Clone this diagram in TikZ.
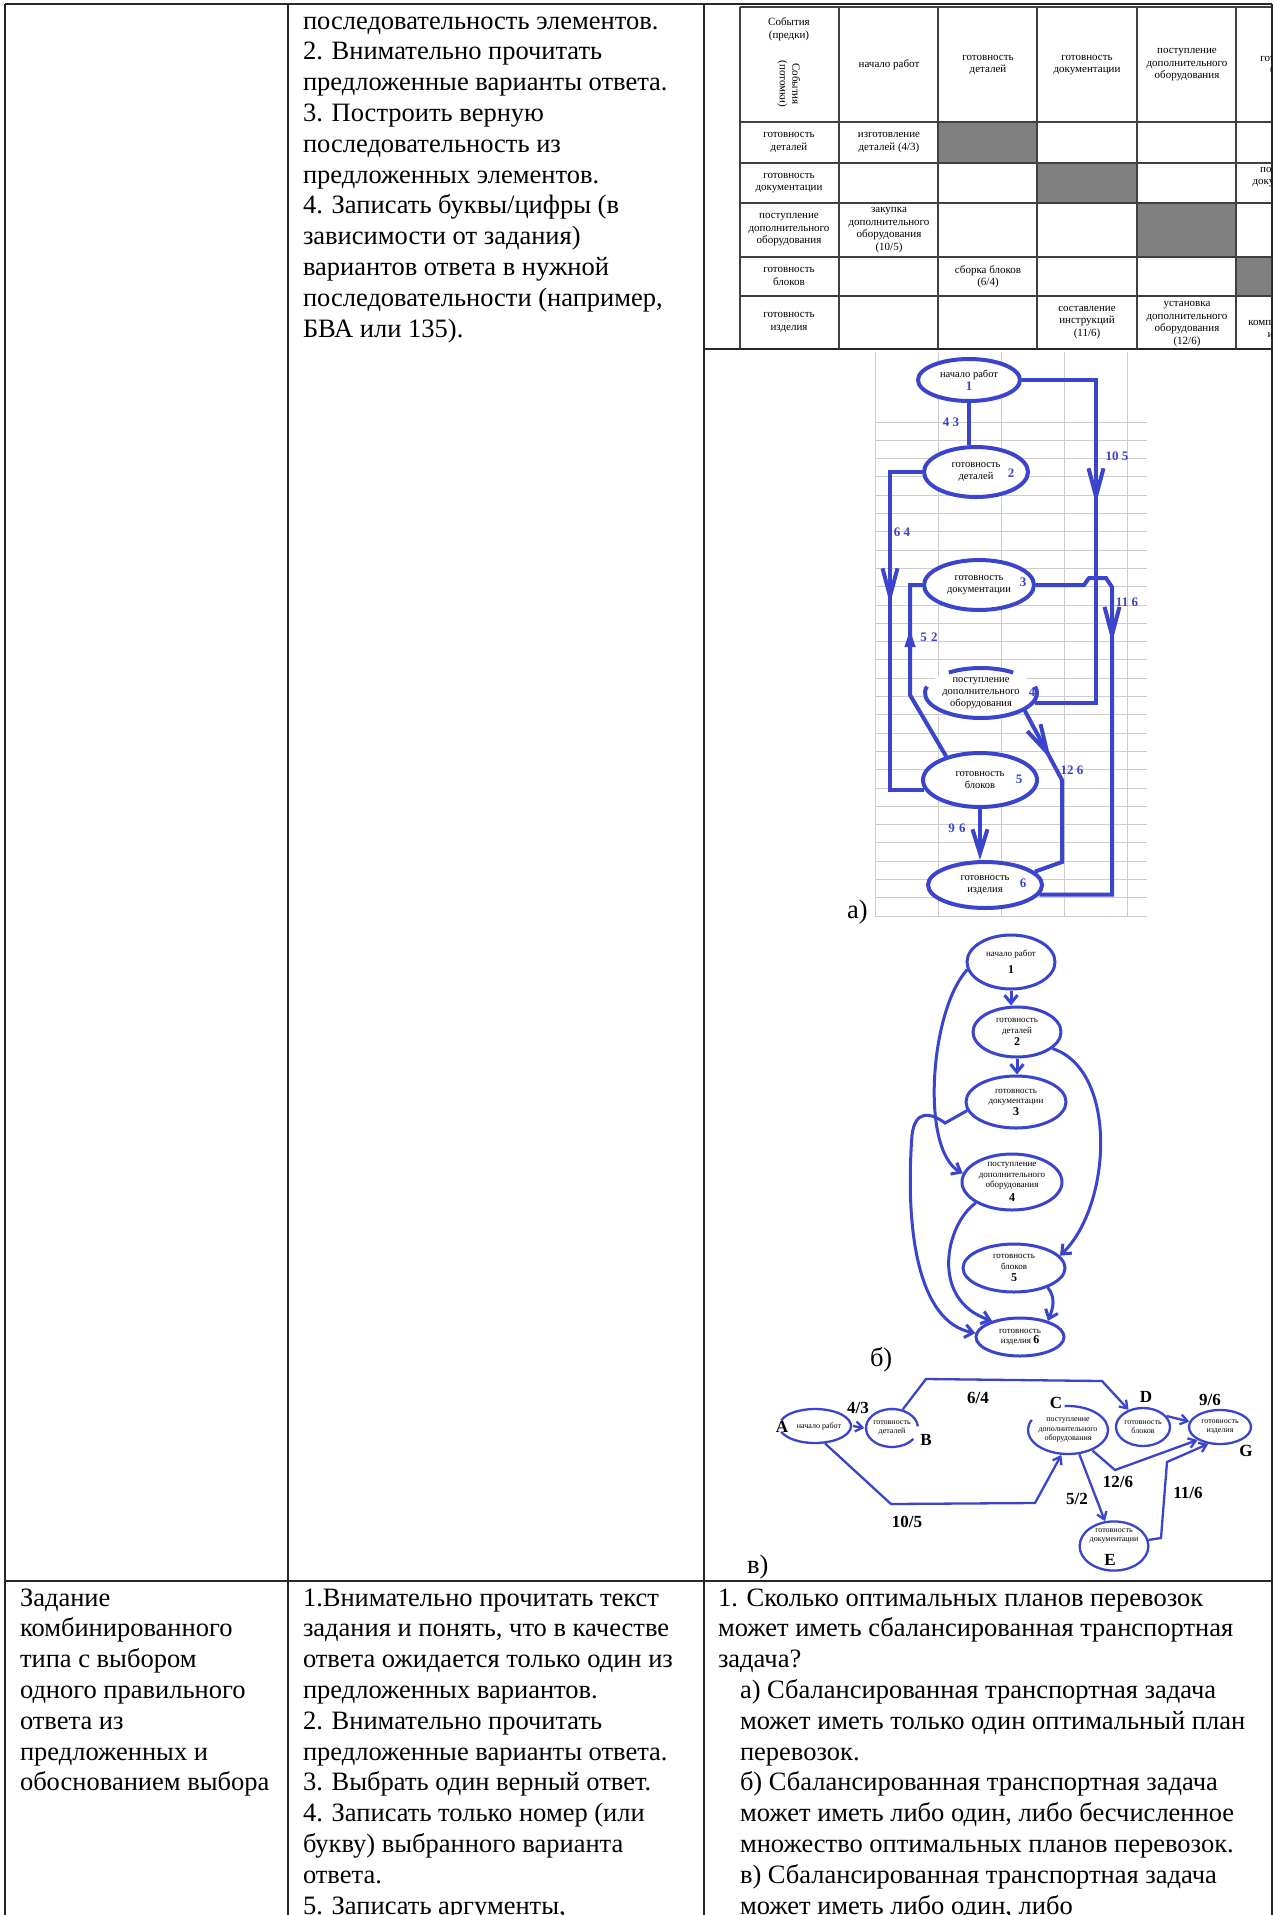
\documentclass[tikz,border=0pt]{standalone}
\usepackage{fontspec}
\setmainfont{Liberation Serif}
\usetikzlibrary{shapes.geometric,arrows.meta,decorations.markings}
\definecolor{gblue}{RGB}{58,68,205}
\definecolor{cellgrey}{RGB}{128,128,128}
\newcommand\tlines[4]{\foreach \txt [count=\i] in {#4} {\node[body,anchor=base west] (#3\i) at (#1,{#2-(\i-1)*30.8}) {\txt};}}
\begin{document}
\begin{tikzpicture}[x=1pt,y=1pt,
 frame/.style={draw=black!85,line width=1.4},
 tline/.style={draw=black!75,line width=1.1},
 gridl/.style={draw=black!20,line width=1},
 body/.style={font=\fontsize{26.5}{30.8}\selectfont,inner sep=0,outer sep=0},
 tbl/.style={font=\fontsize{11}{12.5}\selectfont,align=center,inner sep=0},
 aell/.style={ellipse,draw=gblue,line width=4,fill=white,inner sep=0,align=center,font=\fontsize{10.5}{11.5}\selectfont},
 aline/.style={draw=gblue,line width=4},
 alab/.style={text=gblue,font=\fontsize{13}{13}\selectfont\bfseries,inner sep=0},
 marr/.style={postaction={decorate,decoration={markings,mark=at position #1 with {\arrow{Straight Barb[length=28pt,width=15pt]}}}}},
 tarr/.style={postaction={decorate,decoration={markings,mark=at position #1 with {\arrow{Triangle[length=18pt,width=10pt]}}}}},
 bell/.style={ellipse,draw=gblue,line width=3,fill=white,inner sep=0,align=center,font=\fontsize{9}{10.5}\selectfont},
 bline/.style={draw=gblue,line width=3},
 barr/.style={-{Straight Barb[length=8pt,width=13pt]}},
 cell/.style={ellipse,draw=gblue,line width=2.3,fill=white,inner sep=0,align=center,font=\fontsize{8}{9.5}\selectfont},
 cline/.style={draw=gblue,line width=2.3},
 carr/.style={-{Straight Barb[length=7pt,width=10pt]}},
 clab/.style={font=\fontsize{17}{17}\selectfont\bfseries,inner sep=0}
]
\useasboundingbox (0,0) rectangle (1278,-1915);
\fill[white] (0,0) rectangle (1278,-1915);

% ---------- outer table ----------
\draw[frame] (5,-4) -- (1272,-4);
\draw[frame] (5,-4) -- (5,-1915);
\draw[frame] (288,-4) -- (288,-1915);
\draw[frame] (704,-4) -- (704,-1915);
\draw[frame] (1272,-4) -- (1272,-1915);
\draw[frame] (5,-1581) -- (1272,-1581);
\draw[frame] (704,-349) -- (1272,-349);

% ---------- texts ----------
\tlines{303}{-29}{ta}{{последовательность элементов.},{2. Внимательно прочитать},{предложенные варианты ответа.},{3. Построить верную},{последовательность из},{предложенных элементов.},{4. Записать буквы/цифры (в},{зависимости от задания)},{вариантов ответа в нужной},{последовательности (например,},{БВА или 135).}}
\tlines{20}{-1606}{tb}{{Задание},{комбинированного},{типа с выбором},{одного правильного},{ответа из},{предложенных и},{обоснованием выбора}}
\tlines{303}{-1606}{tc}{{1.Внимательно прочитать текст},{задания и понять, что в качестве},{ответа ожидается только один из},{предложенных вариантов.},{2. Внимательно прочитать},{предложенные варианты ответа.},{3. Выбрать один верный ответ.},{4. Записать только номер (или},{букву) выбранного варианта},{ответа.},{5. Записать аргументы,}}
\tlines{718}{-1606}{td}{{1. Сколько оптимальных планов перевозок},{может иметь сбалансированная транспортная},{задача?}}
\tlines{740}{-1698.4}{te}{{а) Сбалансированная транспортная задача},{может иметь только один оптимальный план},{перевозок.},{б) Сбалансированная транспортная задача},{может иметь либо один, либо бесчисленное},{множество оптимальных планов перевозок.},{в) Сбалансированная транспортная задача},{может иметь либо один, либо}}

% ---------- event table ----------
\begin{scope}
\clip (705,-5) rectangle (1271,-348);
\fill[cellgrey] (938,-122) rectangle (1037,-163);
\fill[cellgrey] (1037,-163) rectangle (1137,-203);
\fill[cellgrey] (1137,-203) rectangle (1236,-257);
\fill[cellgrey] (1236,-257) rectangle (1335,-296);
\foreach \x in {740,839,938,1037,1137,1236,1335} \draw[tline] (\x,-7) -- (\x,-349);
\foreach \y in {7,122,163,203,257,296} \draw[tline] (740,-\y) -- (1335,-\y);
\node[tbl] (h0) at (789,-29) {События\\(предки)};
\node[tbl,rotate=-90] (h0r) at (789,-84) {События\\(потомки)};
\node[tbl] (h1) at (889,-65) {начало работ};
\node[tbl] (h2) at (988,-65) {готовность\\деталей};
\node[tbl] (h3) at (1087,-65) {готовность\\документации};
\node[tbl] (h4) at (1187,-65) {поступление\\дополнительного\\оборудования};
\node[tbl] (h5) at (1286,-65) {готовность\\блоков};
\node[tbl] (r1) at (789,-142.5) {готовность\\деталей};
\node[tbl] (r2) at (789,-183) {готовность\\документации};
\node[tbl] (r3) at (789,-230) {поступление\\дополнительного\\оборудования};
\node[tbl] (r4) at (789,-276.5) {готовность\\блоков};
\node[tbl] (r5) at (789,-322.5) {готовность\\изделия};
\node[tbl] (c11) at (889,-142.5) {изготовление\\деталей (4/3)};
\node[tbl] (c25) at (1286,-177) {подготовка\\документации};
\node[tbl] (c31) at (889,-230) {закупка\\дополнительного\\оборудования\\(10/5)};
\node[tbl] (c42) at (988,-276.5) {сборка блоков\\(6/4)};
\node[tbl] (c53) at (1087,-322.5) {составление\\инструкций\\(11/6)};
\node[tbl] (c54) at (1187,-324) {установка\\дополнительного\\оборудования\\(12/6)};
\node[tbl] (c55) at (1286,-330) {комплектование\\изделия};
\end{scope}

% ---------- graph a) ----------
\foreach \x in {875,938,1001,1064,1127} \draw[gridl] (\x,-352) -- (\x,-916);
\foreach \k in {0,...,27} \draw[gridl] (875,{-422-18.3*\k}) -- (1147,{-422-18.3*\k});

\node[aell,minimum width=102,minimum height=42] (a1) at (969,-380) {начало работ\\[1pt]{\color{gblue}\fontsize{13}{13}\selectfont\bfseries 1}};
\node[aell,minimum width=104,minimum height=50] (a2) at (976,-472) {готовность\\деталей};
\node[aell,minimum width=110,minimum height=50] (a3) at (979,-585) {готовность\\документации};
\fill[white] (981,-693) ellipse[x radius=56,y radius=25];
\draw[aline] (981,-693) ++(55:56 and 25) arc[start angle=55,end angle=125,x radius=56,y radius=25];
\draw[aline] (981,-693) ++(165:56 and 25) arc[start angle=165,end angle=375,x radius=56,y radius=25];
\node[aell,draw=none,fill=none,minimum width=112,minimum height=50,font=\fontsize{10.5}{12}\selectfont] (a4) at (981,-693) {поступление\\дополнительного\\оборудования};
\node[aell,minimum width=114,minimum height=54] (a5) at (980,-780) {готовность\\блоков};
\node[aell,minimum width=114,minimum height=46] (a6) at (985,-885) {готовность\\изделия};
\node[alab] (a2n) at (1011,-473) {2};
\node[alab] (a3n) at (1023,-582) {3};
\node[alab] (a4n) at (1032,-692) {4};
\node[alab] (a5n) at (1019,-779) {5};
\node[alab] (a6n) at (1023,-883) {6};

\draw[aline] (a1.south) -- (a1.south |- a2.north);
\draw[aline,marr=198pt] (a1.east) -- (1096,-380) |- (a4.-10);
\draw[aline,marr=164pt] (a2.west) -- (890,-472) |- (a5.190);
\draw[aline,tarr=137pt] (a5.145) -- (910,-695) |- (a3.west);
\draw[aline,marr=140pt] (a3.east) -- (1084,-585) -- (1089,-578) -- (1106,-578) -- (1112,-587) |- (a6.-10);
\draw[aline,marr=55pt] (a4.-22) -- (1062,-780) -- (1062,-862) -- (a6.15);
\draw[aline,-{Straight Barb[length=24pt,width=15pt]}] (a5.south) -- (a5.south |- a6.north);

\node[alab] (l43) at (951,-422) {4 3};
\node[alab] (l105) at (1117,-456) {10 5};
\node[alab] (l64) at (902,-532) {6 4};
\node[alab] (l52) at (929,-637) {5\,\,2};
\node[alab] (l116) at (1127,-602) {11 6};
\node[alab] (l126) at (1072,-770) {12 6};
\node[alab] (l96) at (957,-828) {9\,\,6};
\node[body,anchor=base west] (la) at (847,-918) {а)};

% ---------- graph b) ----------
\node[bell,minimum width=88,minimum height=54] (b1) at (1011,-962) {начало работ\\[6pt]{\fontsize{12}{12}\selectfont\bfseries 1}};
\node[bell,minimum width=88,minimum height=50] (b2) at (1017,-1032) {готовность\\деталей\\[2pt]{\fontsize{12}{12}\selectfont\bfseries 2}};
\node[bell,minimum width=100,minimum height=52] (b3) at (1016,-1102) {готовность\\документации\\[1pt]{\fontsize{12}{12}\selectfont\bfseries 3}};
\node[bell,minimum width=100,minimum height=56] (b4) at (1012,-1182) {поступление\\дополнительного\\оборудования\\[3pt]{\fontsize{12}{12}\selectfont\bfseries 4}};
\node[bell,minimum width=102,minimum height=48] (b5) at (1014,-1268) {готовность\\блоков\\[2pt]{\fontsize{12}{12}\selectfont\bfseries 5}};
\node[bell,minimum width=88,minimum height=38] (b6) at (1020,-1337) {готовность\\изделия {\fontsize{12}{12}\selectfont\bfseries 6}};

\draw[bline,barr] (b1.south) -- (b1.south |- b2.north);
\draw[bline,barr] (b2.south) -- (b2.south |- b3.north);
\draw[bline,barr] (b1.190) .. controls (930,-1010) and (920,-1150) .. (b4.170);
\draw[bline,barr] (b2.-25) .. controls (1118,-1070) and (1112,-1205) .. (b5.15);
\draw[bline,barr] (b3.190) -- (945,-1123) .. controls (930,-1112) and (915,-1110) .. (912,-1135) .. controls (905,-1230) and (918,-1322) .. (b6.175);
\draw[bline,barr] (b4.-150) .. controls (945,-1225) and (930,-1300) .. (b6.150);
\draw[bline,barr] (b5.-30) .. controls (1056,-1298) and (1053,-1308) .. (b6.30);
\node[body,anchor=base west] (lb) at (870,-1366) {б)};

% ---------- graph c) ----------
\fill[white] (815,-1426) ellipse[x radius=36,y radius=17];
\draw[cline] (815,-1426) ++(-160:36 and 17) arc[start angle=-160,end angle=160,x radius=36,y radius=17];
\node[cell,draw=none,fill=none,minimum width=72,minimum height=34] (cA) at (815,-1426) {\hspace{8pt}начало работ};
\draw[cline] (892,-1428) ++(5:26 and 19) arc[start angle=5,end angle=325,x radius=26,y radius=19];
\node[cell,draw=none,fill=none,minimum width=52,minimum height=38] (cB) at (892,-1428) {готовность\\деталей};
\draw[cline] (1068,-1430) ++(155:40 and 24) arc[start angle=155,end angle=455,x radius=40,y radius=24];
\node[cell,draw=none,fill=none,minimum width=80,minimum height=48] (cC) at (1068,-1430) {поступление\\дополнительного\\оборудования};
\node[cell,minimum width=54,minimum height=38] (cD) at (1143,-1427) {готовность\\блоков};
\node[cell,minimum width=62,minimum height=34] (cG) at (1220,-1427) {готовность\\изделия};
\node[cell,minimum width=68,minimum height=48] (cE) at (1114,-1546) {готовность\\документации\\[12pt]};

\node[clab] (lA) at (782,-1427) {A};
\node[clab] (lB) at (926,-1440) {B};
\node[clab] (lC) at (1056,-1403) {C};
\node[clab] (lD) at (1146,-1397) {D};
\node[clab] (lG) at (1246,-1451) {G};
\node[clab] (lE) at (1110,-1560) {E};

\draw[cline,carr] (cA.east) -- (cB.west);
\draw[cline,carr] (cB.60) -- (926,-1379) -- (1102,-1381) -- (cD.130);
\draw[cline,carr] (cA.-60) -- (891,-1504) -- (1035,-1503) -- (cC.-105);
\draw[cline,carr] (cC.-65) -- (cE.110);
\draw[cline,carr] (cC.-40) -- (1115,-1470) -- (cG.-150);
\draw[cline,carr] (cD.25) -- (cG.170);
\draw[cline,carr] (cE.10) -- (1161,-1538) -- (1167,-1462) -- (cG.-125);

\node[clab] (l43c) at (858,-1408) {4/3};
\node[clab] (l64c) at (978,-1398) {6/4};
\node[clab] (l105c) at (907,-1522) {10/5};
\node[clab] (l52c) at (1077,-1499) {5/2};
\node[clab] (l126c) at (1118,-1482) {12/6};
\node[clab] (l96c) at (1210,-1400) {9/6};
\node[clab] (l116c) at (1188,-1493) {11/6};
\node[body,anchor=base west] (lc) at (747,-1573) {в)};
\end{tikzpicture}
\end{document}
